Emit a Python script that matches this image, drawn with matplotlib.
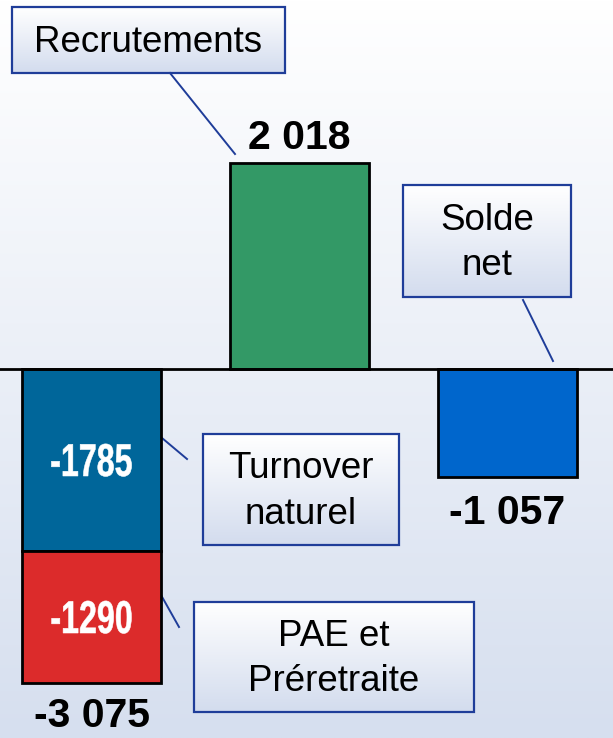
import numpy as np
import matplotlib
matplotlib.use("Agg")
import matplotlib.pyplot as plt
from matplotlib.patches import Rectangle, PathPatch
from matplotlib.colors import to_rgb
from matplotlib.textpath import TextPath
from matplotlib.font_manager import FontProperties
from matplotlib.transforms import Affine2D

plt.rcParams['font.family'] = ['Liberation Sans', 'DejaVu Sans']

# data
turnover = -1785
pae = -1290
recrutements = 2018
solde_net = -1057
bar_colors = ['#00669A', '#DC2B2B', '#339966', '#0066CC']

# callouts in figure pixels: label, box (x0, y0, x1, y1), connector (xa, ya, xb, yb)
callouts = [
    ('Recrutements', (12, 7, 285, 73), (170, 73, 235, 154)),
    ('Solde\nnet', (403, 185, 571, 297), (523, 300, 553, 361)),
    ('Turnover\nnaturel', (203, 434, 399, 545), (187, 459, 162, 438)),
    ('PAE et\nPréretraite', (194, 602, 474, 712), (179, 627, 161, 595)),
]

W, H = 613, 738
fig = plt.figure(figsize=(W / 100, H / 100), dpi=100)

# background + callouts, pixel coordinates
bg = fig.add_axes([0, 0, 1, 1], zorder=0)
bg.axis('off')


def vgrad(top, bottom, n=256):
    t = np.linspace(0, 1, n)[:, None]
    c0, c1 = np.array(to_rgb(top)), np.array(to_rgb(bottom))
    return (c0 + (c1 - c0) * t)[:, None, :].repeat(2, axis=1)


bg.imshow(vgrad('#FFFFFF', '#D6DFEF'), extent=(0, W, H, 0), aspect='auto', zorder=0)

for label, (x0, y0, x1, y1), (xa, ya, xb, yb) in callouts:
    rect = Rectangle((x0, y0), x1 - x0, y1 - y0, facecolor='none',
                     edgecolor='#1F3D99', lw=1.6, zorder=3)
    bg.add_patch(rect)
    im = bg.imshow(vgrad('#FFFFFF', '#D3DCEE'), extent=(x0, x1, y1, y0),
                   aspect='auto', zorder=2)
    im.set_clip_path(rect)
    bg.plot([xa, xb], [ya, yb], color='#1F3D99', lw=1.4, zorder=2)
    bg.text((x0 + x1) / 2, (y0 + y1) / 2 + 2, label, ha='center', va='center',
            fontsize=26.5, color='black', linespacing=1.4, zorder=4)
bg.set_xlim(0, W)
bg.set_ylim(H, 0)

# bars
ax = fig.add_axes([0, 0, 1, 1], zorder=1)
ax.patch.set_alpha(0)
ax.set_xlim(-0.44, 2.507)
ax.set_ylim(-3613, 3613)
ax.axis('off')

width = 0.668
kw = dict(width=width, edgecolor='black', linewidth=2, zorder=2)
ax.bar(0, turnover, color=bar_colors[0], **kw)
ax.bar(0, pae, bottom=turnover, color=bar_colors[1], **kw)
ax.bar(1, recrutements, color=bar_colors[2], **kw)
ax.bar(2, solde_net, color=bar_colors[3], **kw)
ax.axhline(0, color='black', lw=2, zorder=3)

# condensed white labels inside the stacked bar
fp = FontProperties(family='Liberation Sans', weight='bold')


def narrow_label(x, y, s):
    tp = TextPath((0, 0), s, size=46, prop=fp)
    bb = tp.get_extents()
    cx, cy = ax.transData.transform((x, y))
    tr = (Affine2D().translate(-(bb.x0 + bb.x1) / 2, -(bb.y0 + bb.y1) / 2)
          .scale(0.7, 1).translate(cx, cy))
    ax.add_artist(PathPatch(tp, transform=tr, facecolor='white',
                            edgecolor='white', lw=0.4, zorder=4))


narrow_label(0, turnover / 2, str(turnover))
narrow_label(0, turnover + pae / 2, str(pae))


def fmt(v):
    return f"{v:,}".replace(',', ' ')


total = turnover + pae
lab = dict(ha='center', fontweight='bold', fontsize=29.5, color='black')
ax.annotate(fmt(total), (0, total), xytext=(0, -10), textcoords='offset points', va='top', **lab)
ax.annotate(fmt(recrutements), (1, recrutements), xytext=(0, 4), textcoords='offset points', va='bottom', **lab)
ax.annotate(fmt(solde_net), (2, solde_net), xytext=(0, -12), textcoords='offset points', va='top', **lab)

fig.savefig('out.png', dpi=100)
